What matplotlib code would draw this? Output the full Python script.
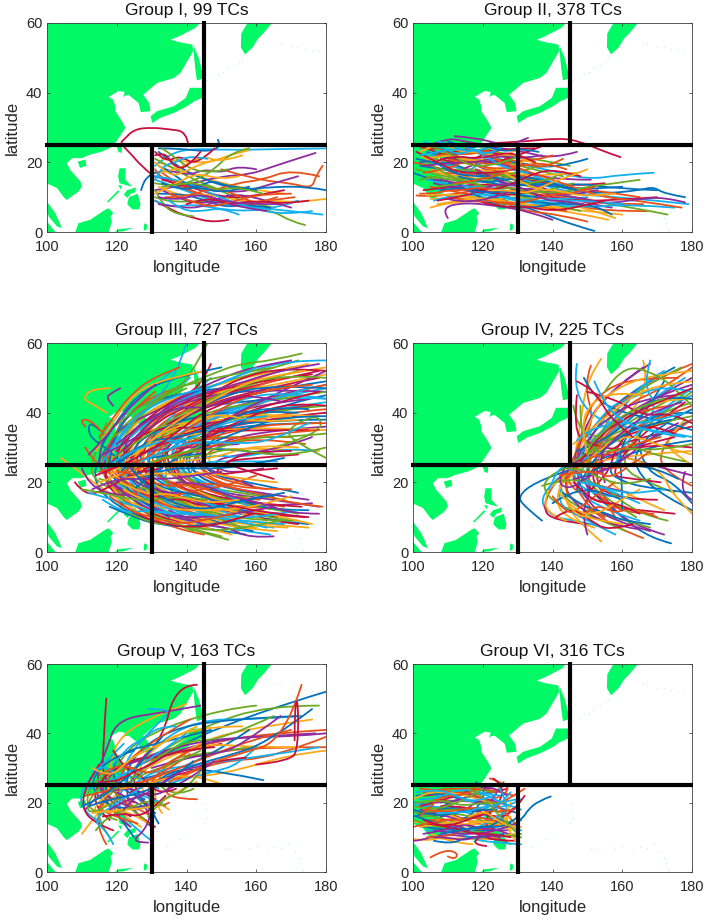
import matplotlib
matplotlib.use('Agg')
import matplotlib.pyplot as plt
from matplotlib.path import Path
from matplotlib.patches import PathPatch

plt.rcParams['font.family'] = ['Liberation Sans', 'DejaVu Sans']

COLORS = ['#0072BD', '#E8501A', '#FBA919', '#8E2C9E', '#6BAA22', '#12B0EE', '#C8103E']
LAND = '#00F964'

titles = ['Group I, 99 TCs', 'Group II, 378 TCs', 'Group III, 727 TCs',
          'Group IV, 225 TCs', 'Group V, 163 TCs', 'Group VI, 316 TCs']
lon_ticks = [100, 120, 140, 160, 180]
lat_ticks = [0, 20, 40, 60]

mainland = [(100,60),(143.8,60),(142.6,58.6),(137.9,56.2),(135.5,55.2),(137.9,54.5),(141.7,53.8),(141.9,51.9),(140.2,49),(138.3,45.7),(136.4,44.2),(131.6,42.8),
            (127.6,39.4),(129.3,37),(129.7,34.7),(126.9,34.4),(126.3,37),(123.5,39.3),(122.4,39.2),(121.8,38.6),(122.3,40.2),(120.6,40.5),(117.7,38.8),(119,38),
            (119.6,36),(119.6,34.7),(121.5,31.8),(122.5,29.9),(119.9,26),(118.2,24.2),(115.8,23.1),(112,22.1),(110,21.2),(107.2,21.2),(105.7,19.7),(106.7,17.8),
            (109.6,14.5),(110,13),(109,11.6),(105.7,9.2),(104.8,10),(102.9,12.6),(100.5,13.7),(100,13.7)]
malaya = [(100,8.7),(102.4,5.4),(104.3,1.1),(102.9,1.6),(100.5,4.4),(100,6)]
sumatra = [(100,3),(102,0.5),(102.5,0),(100,0)]
borneo = [(108.1,0),(109,2.5),(112.4,3.5),(116.7,6.4),(117.7,6.8),(119,5.4),(118.2,4.4),(118.6,3),(117.7,0)]
sulawesi = [(119.5,0),(120.5,0.8),(124.8,1.2),(122,0.2)]
halmahera = [(127.7,0.5),(127.9,2.5),(128.8,2),(128.5,0.5)]
mindanao = [(123.5,10),(126,11),(126.8,8),(126.5,6.5),(124.5,6.5),(123,8)]
palawan = [(117.2,8.7),(120.4,12),(120.7,11.6),(117.6,8.5)]
visayas = [(122,10.8),(123,12),(125.5,12.8),(125.3,11.4),(124,11),(123,9.8)]
luzon = [(120.8,18.3),(122.5,18.3),(122.5,15),(124.4,13),(122.5,13.5),(120.8,14),(120.4,16)]
mindoro = [(120.4,13.4),(121.5,13.4),(121.2,12.2)]
taiwan = [(120,24.5),(121.5,25),(121.5,22.7),(120.5,23)]
hainan = [(108.8,20.2),(111,20.8),(111.3,19),(109.5,18.4)]
honshu = [(141,41.4),(139.8,38.5),(136.4,36.1),(131.6,34.7),(129.7,33.2),(130.2,31.3),(132.6,32.8),(136.4,34.2),(140.2,36.1),(142.2,37.5),(144.5,38.5),(144.5,41.4)]
sakhalin = [(142,53.5),(143.5,50),(144.5,46),(144.5,44),(143,43.5),(142.5,47),(142.2,50)]
kamchatka = [(157.5,60),(155.7,57),(155.6,53),(156.8,51),(159,53),(160.5,55.5),(162,57),(164.5,60)]
land_parts = [mainland, malaya, sumatra, borneo, sulawesi, halmahera, mindanao, palawan, visayas, luzon,
              mindoro, taiwan, hainan, honshu, sakhalin, kamchatka]

dots_lon = [146,147.5,149,150.5,152,153.5,155,156,166,167,170,172,174,176,178,180,145,145.5,145.7,145.2,
            134,138,151,152,158,163,167,169,171,172,172.5,173,173.5,160,165,129,128,120,122]
dots_lat = [43.5,44.5,45.5,46,47,48,49,50,54.5,54,53,53,52.5,52.3,52,51.7,14,15.5,18,20,
            7.5,9.5,7,6.5,6.8,5.5,7,8,6,4,2.5,1,0.4,7.5,7.3,1,3,23,24]

g1 = [
 [(127,12),(127.5,14),(129,16),(131,17.2),(134,17.5)],
 [(152,8),(145,10),(138,13),(132,16),(131,18)],
 [(168,11),(160,12),(150,14),(140,17),(132,20)],
 [(177,22.7),(170,20.5),(164,18.5),(158,16.5),(150,16),(140,13.5),(131,12)],
 [(174,2),(170,3),(165,6),(155,8),(145,9),(135,8.5),(131,10)],
 [(180,24),(165,23.8),(152,23.5),(142,24),(135,22.5),(131,19)],
 [(140.5,25),(140,28.8),(135,29.5),(130,30),(125,29.5),(122,26.5),(121,25.5),(124,22.5),(127,19),(130,16.5)],
 [(149,26.5),(150,24.5),(146,23),(138,24),(132,24)],
 [(179,19),(177,16),(176,12.5),(170,14),(160,15),(150,18)],
 [(158,23.5),(152,22),(147,20),(140,20),(133,21)],
 [(172,16),(165,14),(155,11),(145,13),(135,15),(130.5,16)],
 [(165,7),(155,9),(150,12),(142,15),(135,19),(131,21)],
 [(179,5),(170,6),(160,7),(150,8),(142,11),(134,14),(131,15)],
 [(152,3.5),(148,2.7),(142,4),(136,6),(131,9)],
 [(180,12),(175,13),(165,13),(155,12),(145,15),(137,19),(132,23)],
 [(171,10),(163,9),(155,7),(148,10),(140,12),(133,17)],
 [(180,9.5),(172,8.5),(165,9),(157,8.5),(147,11),(138,10),(132,13)],
 [(160,18),(155,19),(150,17),(145,18),(140,16),(134,18)],
 [(158,24),(153,23),(148,18),(143,15),(136,13),(131,14)],
 [(172,9),(166,7),(158,6),(150,6.5),(142,8),(135,7),(131,9)],
 [(168,12),(158,10),(150,10),(141,13),(133,15)],
 [(164,7),(157,8),(151,7),(143,10),(137,11),(132,11)],
 [(178,16),(170,18),(162,15),(154,14),(145,11),(136,15)],
 [(156,22),(150,20),(144,22),(138,18),(132,17)],
 [(170,7),(160,10),(152,11),(146,8),(139,9),(133,12)],
 [(142,4.5),(137,5),(133,8),(131,12)],
 [(176,6),(168,5),(160,6.5),(152,9),(145,12),(138,15),(131,16)],
 [(148,24),(143,19),(138,22),(134,20),(131,23)],
 [(160,12),(152,13),(147,15),(142,12),(136,17),(132,19)],
 [(166,10),(160,8),(156,10),(148,13),(140,10),(134,10)],
 [(155,16),(150,15),(143,17),(137,14),(131,11)],
 [(163,6),(156,7),(149,9),(144,7),(138,7),(132,8)],
 [(152,18),(147,17),(141,18),(136,22),(133,24)],
 [(146,21),(141,22),(137,20),(133,19),(131,15)],
 [(175,9),(168,8),(160,9),(152,8),(146,10),(140,8)],
 [(158,13),(150,11),(144,13),(138,12),(133,14)],
 [(170,11),(162,11),(154,9),(147,7),(141,9),(135,11)],
 [(150,21),(145,20),(139,17),(135,16),(131,20)],
 [(166,8),(158,8),(150,9),(144,11),(137,9),(132,10)],
 [(162,11),(155,13),(149,12),(143,14),(139,14),(133,13)],
 [(155,5),(150,7),(145,6),(139,6),(135,9)],
 [(144,23),(140,18),(136,19),(134,23),(131,22)],
]

g2 = [
 [(178,10),(172,11),(169,13),(165,12),(155,11),(145,12),(130,16),(115,20),(104,23)],
 [(167,6),(155,6),(145,8),(130,12),(118,15),(106,19),(100,20)],
 [(160,5),(150,6),(140,7),(128,11),(115,14),(105,18)],
 [(157,7),(150,8),(140,12),(128,15),(116,20),(107,24)],
 [(173,5),(163,7),(150,9),(138,12),(125,15),(113,19),(103,22)],
 [(179,8),(170,9),(158,10),(146,11),(132,15),(120,19),(110,22)],
 [(159.5,21.5),(155,23),(148,26),(142,27),(130,25.8),(122,25.5)],
 [(152,0.3),(146,2),(138,5),(130,8),(120,11),(108,14),(100,17)],
 [(150,3),(142,5),(132,6),(125,9),(115,11),(105,13)],
 [(156,3.5),(147,5.5),(135,7),(127,9),(116,10),(105,9.5)],
 [(147,23),(140,21),(132,23),(125,24),(115,26),(110,27),(105,25)],
 [(145,19),(135,21),(127,22),(118,25),(110,25),(102,24)],
 [(169,17),(160,16.5),(150,15),(138,18),(128,20),(118,23),(108,25)],
 [(155,14),(145,13),(133,15),(122,18),(112,21),(101,25)],
 [(170,12),(158,12.5),(148,14),(136,13),(125,17),(114,17),(102,19)],
 [(166,8),(154,8),(142,10),(130,13),(118,12),(106,10),(101,10.5)],
 [(152,9),(142,11),(130,10),(120,9),(110,8.5),(105,7)],
 [(140,3.5),(133,6),(124,7.5),(115,8.5),(108,7),(110,4)],
 [(148,6),(136,9),(124,12),(113,15),(104,16)],
 [(163,9),(150,11),(138,15),(126,19),(114,22),(105,22)],
 [(135,24),(128,24),(122,23),(115,24),(107,22)],
 [(150,21),(140,18),(130,20),(120,21),(110,19),(101,21)],
 [(165,10),(152,12),(142,13),(130,17),(120,16),(109,17)],
 [(158,4),(149,7),(137,10),(126,13),(115,16),(106,17)],
 [(133,27),(130,26),(128,24.5),(124,25.5),(118,27),(112,27.5)],
 [(143,16),(134,18),(124,21),(114,24),(106,21)],
 [(175,7),(162,8),(150,7),(138,8),(128,9),(117,13),(107,12)],
 [(170,10),(156,9),(146,9),(134,11),(122,14),(111,13),(103,12)],
 [(157,5),(152,8),(142,8),(131,9),(120,12),(108,15)],
 [(140,22),(130,19),(122,24),(116,22),(108,23),(103,20)],
 [(147,17),(137,16),(127,17),(117,18),(108,19),(102,22)],
 [(153,12),(144,10),(134,13),(124,11),(114,12),(106,14)],
 [(146,14),(136,11),(126,11),(118,14),(110,16),(104,20)],
 [(137,8),(130,7),(122,10),(112,11),(106,9)],
 [(138,25),(130,22),(124,20),(115,20),(110,24),(105,24)],
 [(160,13),(148,12),(138,14),(128,13),(118,17),(110,20)],
 [(144,6),(134,8),(126,8),(116,9),(110,10)],
 [(133,21),(128,18),(120,18),(112,23),(104,21)],
 [(151,15),(142,15),(132,17),(125,20),(118,20),(112,17)],
 [(136,19),(130,17),(124,16),(116,15),(108,16),(101,18)],
 [(150,10),(140,9),(130,11),(122,13),(113,13),(104,15)],
 [(128,21),(124,23),(119,22),(114,19),(108,21)],
 [(142,13),(134,14),(127,13),(119,15),(110,14)],
 [(177,7),(165,9),(154,10),(143,14),(131,18),(121,22),(113,25)],
 [(142,7),(130,8),(118,10),(110,11),(104,10.5)],
 [(130,14),(124,14),(117,11),(111,15),(106,15)],
 [(136,15),(129,16),(122,15),(114,14),(107,13)],
 [(126,25),(120,21),(116,17),(112,19),(105,20)],
 [(134,12),(128,10),(121,12),(113,10),(107,9)],
 [(145,9),(136,7),(128,7),(122,8),(116,12)],
 [(128,20),(122,19),(116,21),(110,18),(103,17)],
 [(139,19),(133,20),(127,23),(121,20),(113,21)],
 [(178,8.5),(172,10),(165,9.5),(155,8),(148,10),(138,11)],
 [(165,15),(158,14),(150,13),(141,11),(132,12),(124,13)],
 [(160,8),(150,9),(142,9),(134,9),(126,10),(118,11)],
 [(155,9),(147,7),(139,6),(132,7.5),(126,7),(120,8.5)],
 [(147,12),(140,14),(133,16),(127,15),(120,14),(113,16)],
 [(144,18),(138,20),(131,19),(125,18),(118,19),(110,21)],
 [(130,24),(126,21),(120,23),(113,23),(108,26),(102,23)],
 [(137,22),(131,21),(125,22),(119,20),(112,20),(103,19)],
 [(141,16),(133,13),(128,16),(121,17),(114,18),(107,18)],
 [(133,17),(127,18),(122,21),(117,24),(112,25),(107,26)],
 [(148,16),(141,18),(135,17),(129,14),(123,12),(117,12)],
 [(138,10),(132,10),(127,12),(121,11),(115,13),(108,12)],
 [(152,13),(146,11),(140,11),(134,9),(128,8),(121,9)],
 [(158,11),(149,10),(142,12),(136,12),(130,15),(124,18)],
 [(149,8),(143,9),(138,9),(131,13),(126,14),(118,18)],
 [(131,22),(126,20),(121,19),(116,19),(110,23),(104,25)],
 [(125,24),(121,22),(118,24),(113,22),(109,24),(103,26)],
 [(129,18),(124,17),(119,17),(113,17),(107,20),(101,23)],
 [(127,15),(122,16),(117,16),(111,17),(105,21),(102,20)],
 [(124,12),(119,13),(115,12),(110,12),(106,11),(102,11)],
 [(125,9),(120,10),(114,9),(110,8.5),(107,8)],
 [(129,12),(123,10),(119,9),(113,8.7),(110,9.5)],
 [(120,13),(115,15),(110,15),(106,16),(102,15)],
 [(121,24),(117,23),(112,24),(107,23),(102,22)],
 [(135,20),(129,23),(123,22),(118,21),(111,22),(106,20)],
 [(136,23),(131,24),(126,23),(120,25),(116,24),(110,26)],
 [(143,21),(137,18),(132,20),(126,17),(120,15),(112,14)],
 [(150,18),(145,16),(139,14),(133,11),(128,12),(122,12)],
]

g3 = [
 [(175,8),(165,9),(150,12),(135,18),(126,25),(128,33),(140,40),(160,46),(180,49)],
 [(170,12),(155,13),(140,15),(128,20),(122,27),(127,36),(145,45),(170,53)],
 [(160,7),(148,8),(135,11),(125,17),(118,25),(120,33),(132,42),(150,49),(175,54)],
 [(178,13),(165,15),(150,17),(138,20),(132,26),(138,35),(155,43),(180,48)],
 [(152,3.5),(143,6),(133,9),(122,15),(116,22),(117,30),(125,40),(140,47)],
 [(165,7),(150,9),(137,14),(128,22),(130,30),(145,37),(165,41),(180,43)],
 [(172,8),(155,10),(142,18),(134,25),(142,33),(160,38),(180,40)],
 [(157,5),(145,7),(132,8),(120,13),(113,20),(115,28),(122,36)],
 [(168,13),(152,15),(140,21),(138,27),(148,35),(168,40),(180,41)],
 [(162,12),(150,11),(137,13),(128,18),(124,26),(129,38),(143,44),(165,48),(180,51)],
 [(175,15),(160,17),(145,20),(140,26),(150,32),(165,35),(180,36)],
 [(158,8),(146,11),(134,15),(124,21),(120,29),(125,38),(138,45),(155,50),(172,55)],
 [(150,6),(140,8),(129,13),(120,19),(117,27),(123,42),(130,47),(136,52)],
 [(166,10),(153,12),(142,13),(130,19),(126,28),(134,37),(152,45),(178,50)],
 [(172,17),(158,20),(147,22),(143,28),(152,36),(170,43),(180,45)],
 [(163,18),(152,20),(143,24),(147,30),(160,33),(174,31)],
 [(155,6),(142,9),(131,12),(123,19),(120,26),(123,35),(133,43),(148,48),(165,52)],
 [(148,9),(137,10),(126,15),(117,21),(114,27),(117,34)],
 [(170,9),(158,11),(145,14),(133,17),(128,24),(132,33),(148,40),(172,46)],
 [(160,14),(148,17),(137,23),(135,30),(145,38),(163,44),(180,47)],
 [(174,10),(160,11),(148,12),(138,17),(131,23),(135,32),(150,39),(176,42)],
 [(153,12),(142,14),(130,16),(122,22),(122,32),(130,40),(145,42),(165,44)],
 [(145,5),(135,7),(127,12),(119,18),(115,24),(118,32),(127,44),(137,47)],
 [(169,7),(154,8),(141,11),(129,16),(125,24),(126,35),(140,42),(160,50),(180,53)],
 [(176,14),(163,13),(150,15),(140,18),(136,26),(142,36),(158,42),(175,44)],
 [(158,16),(147,15),(135,18),(130,26),(137,38),(150,46),(172,52)],
 [(164,5),(150,7),(139,9),(128,15),(121,24),(119,31),(128,41),(141,50)],
 [(150,14),(140,18),(131,22),(128,29),(138,41),(155,47),(178,52)],
 [(167,11),(152,12),(140,16),(132,21),(133,29),(147,36),(168,38),(180,38)],
 [(147,18),(138,19),(128,23),(127,31),(136,40),(150,43),(170,48)],
 [(155,20),(147,24),(146,29),(158,30),(178,29)],
 [(162,24),(152,22),(147,26),(155,28),(168,30),(176,33)],
 [(142,6),(132,10),(124,16),(114,20),(112,25),(117,37)],
 [(160,10),(147,13),(134,19),(127,27),(135,39),(147,50)],
 [(173,13),(158,14),(144,17),(135,22),(134,34),(144,42),(162,46)],
 [(165,16),(150,18),(140,24),(142,31),(155,37),(178,37)],
 [(152,8),(140,10),(128,17),(118,23),(117,28),(122,39),(131,46)],
 [(175,7),(162,8),(150,10),(136,16),(126,22),(123,30),(130,36),(148,38),(170,39)],
 [(144,12),(133,13),(124,18),(119,24),(122,34),(138,43),(158,47),(180,46)],
 [(168,15),(155,17),(143,19),(137,25),(141,34),(158,40),(180,42)],
 [(156,10),(144,13),(133,21),(131,28),(143,38),(165,45),(180,44)],
 [(149,12),(138,15),(128,20),(122,26),(124,32),(134,41),(152,48),(176,51)],
 [(159,6),(147,9),(137,12),(127,19),(123,28),(130,35),(150,41),(172,40)],
 [(170,18),(157,18),(146,21),(141,29),(152,39),(170,46),(180,48)],
 [(163,9),(150,13),(139,13),(130,20),(128,27),(136,36),(155,40),(178,39)],
 [(141,9),(130,11),(122,17),(115,23),(120,35),(128,39),(145,47)],
 [(172,11),(160,13),(146,16),(136,21),(132,31),(144,40),(160,43),(180,46)],
 [(152,17),(142,21),(135,27),(139,35),(155,41),(175,47)],
 [(146,7),(135,9),(123,14),(116,20),(118,26),(128,35),(141,36),(158,35)],
 [(138,13),(128,15),(120,20),(117,24),(121,38),(132,45),(150,47)],
 [(155,12),(145,16),(136,19),(129,24),(133,35),(147,44),(168,50)],
 [(166,6),(153,7),(143,10),(133,14),(126,20),(128,31),(142,34),(160,36),(180,35)],
 [(159,19),(150,22),(142,26),(146,35),(160,43),(180,52)],
 [(150,4.5),(140,7),(131,10),(125,14),(121,21),(125,30),(140,33),(155,33)],
 [(168,8),(156,9),(145,10),(135,13),(129,21),(129,30),(138,32),(150,31)],
 [(143,15),(135,16),(127,20),(125,29),(135,34),(150,35),(175,35)],
 [(175,12),(165,12),(155,15),(146,18),(140,23),(140,29),(150,30),(165,28)],
 [(161,15),(150,16),(141,20),(136,24),(137,31),(148,33),(170,33)],
 [(153,5),(141,8),(129,12),(120,16),(117,22),(122,28),(133,33),(150,37)],
 [(147,13),(136,17),(126,19),(122,24),(127,29),(140,30),(155,31)],
 [(172,9),(160,9),(149,11),(140,13),(133,20),(136,28),(146,31)],
 [(158,13),(147,19),(140,22),(144,26),(156,26),(166,26)],
 [(165,21),(155,24),(150,26),(160,27),(172,28)],
 [(135,10),(127,14),(120,22),(124,26),(135,28),(145,28)],
 [(148,10),(138,12),(130,15),(122,20),(114,25),(111,30)],
 [(130,9),(124,13),(116,18),(108,24),(104,27)],
 [(142,17),(130,17),(120,16),(112,19),(110,24)],
 [(156,7),(143,12),(131,18),(122,19),(115,21)],
 [(163,7),(150,10),(138,11),(128,12),(122,11),(116,15)],
 [(133,24),(125,23),(117,18),(111,16),(108,20)],
 [(154,9),(142,7),(131,8),(125,10),(118,13)],
 [(179,13),(170,14),(160,17),(150,19),(143,23)],
 [(176,8),(168,10),(158,12),(148,15),(140,19)],
 [(165,4.5),(158,4),(152,7),(143,8),(135,12)],
 [(180,27),(172,31),(168,35),(178,40),(179,34),(165,30)],
 [(177,29),(170,30),(155,27),(148,28),(140,26)],
 [(166,24),(155,23),(148,22),(150,25),(158,29),(170,29)],
 [(122,25),(117,30),(112,33),(112,38),(115,35)],
 [(117,33),(113,38),(109,38),(111,36)],
 [(118,47),(113,47),(110,44),(114,42),(117,40)],
 [(121,47),(118,45.5),(117,44),(119,42)],
 [(146,60),(143,54),(138,47),(131,44),(124,40),(118,35)],
 [(140,60),(137,50),(128,41),(121,33),(116,26)],
 [(147,54),(144,47),(135,43),(126,36),(120,29)],
 [(150,53),(140,51),(128,47),(120,38),(116,31)],
 [(138,53),(130,50),(124,45),(120,40),(115,33)],
 [(145,52),(135,50),(125,46),(118,36),(114,29)],
 [(131,48),(125,43),(120,37),(116,32),(112,28)],
 [(173,57),(165,55),(155,54),(147,51),(135,46),(125,39)],
 [(180,55),(170,55),(158,52),(146,47),(133,41),(124,33)],
 [(180,52),(168,53),(155,50),(143,43),(130,37),(121,27)],
 [(180,47),(165,48),(150,45),(138,38),(127,30),(118,24)],
 [(180,37),(165,37),(150,34),(137,30),(126,26),(115,23)],
 [(172,30),(160,31),(148,27),(137,26),(125,24),(115,20)],
 [(178,54),(166,52),(154,48),(142,45),(130,39),(120,31)],
 [(180,50),(167,51),(153,47),(141,41),(129,34),(119,27)],
 [(180,44),(168,46),(155,44),(143,37),(132,30),(120,25)],
 [(180,42),(170,43),(158,39),(146,33),(134,27),(123,21)],
 [(180,39),(168,39),(156,35),(144,30),(133,25),(125,18)],
 [(176,48),(163,47),(151,42),(140,35),(130,28),(122,23)],
 [(174,52),(160,50),(148,44),(136,37),(126,29),(118,22)],
 [(170,55),(158,53),(148,49),(137,44),(128,36),(122,29)],
 [(165,53),(153,51),(144,49),(133,46),(126,38),(119,33)],
 [(160,53),(150,48),(140,46),(130,42),(123,37),(118,29)],
 [(178,46),(166,43),(154,39),(143,35),(133,31),(124,27)],
 [(175,41),(162,42),(150,37),(139,33),(128,32),(120,26)],
 [(178,35),(165,34),(153,32),(142,29),(131,26),(121,22)],
 [(172,38),(160,37),(150,40),(140,37),(130,33),(125,27)],
 [(168,43),(156,46),(146,41),(136,42),(127,33),(116,28)],
 [(180,34),(170,33),(158,33),(147,29),(138,29),(128,25)],
 [(163,39),(152,38),(141,32),(133,32),(124,29),(116,24)],
 [(158,45),(147,42),(137,34),(129,29),(122,25),(114,22)],
 [(168,27),(158,25),(150,24),(142,24),(134,24),(126,21)],
 [(160,22),(152,19),(144,18),(136,16),(127,16),(120,18)],
 [(170,16),(160,13),(150,12),(140,12),(130,13),(122,18)],
 [(165,13),(155,11),(145,10),(136,10),(127,13),(118,20)],
 [(167,9),(157,7),(147,6),(138,8),(130,8),(124,11)],
 [(172,12),(162,10),(152,10),(143,11),(134,12),(126,17)],
 [(175,10),(165,11),(154,13),(144,15),(135,15),(127,17)],
 [(168,17),(158,15),(150,14),(141,17),(133,18),(126,23)],
 [(155,18),(147,20),(140,19),(132,19),(125,23),(120,23)],
 [(166,20),(155,21),(146,23),(138,22),(130,23),(122,21)],
 [(150,23),(142,22),(136,21),(128,21),(119,21),(113,18)],
 [(146,15),(139,16),(131,15),(124,15),(116,17),(110,18)],
 [(140,11),(132,11),(126,13),(119,15),(112,17)],
 [(159,11),(150,8),(141,7),(134,8),(127,10),(121,14)],
 [(162,16),(153,14),(145,12),(136,14),(129,18),(124,24)],
 [(153,11),(145,9),(137,8),(130,10),(123,12),(118,16)],
 [(155,15),(148,14),(141,15),(134,17),(129,16),(121,20)],
 [(178,11),(170,11),(162,14),(152,16),(144,20),(137,20)],
 [(180,30),(172,28),(162,28),(152,30),(143,27),(133,27)],
 [(175,37),(165,32),(155,31),(145,32),(135,30),(127,26)],
]

g4 = [
 [(174,2.5),(168,4),(160,10),(150,18),(147,25),(152,35),(160,45),(175,53)],
 [(166,4),(158,7),(150,13),(145,22),(147,30),(155,40),(170,50),(180,54)],
 [(154,3),(148,8),(143,15),(146,25),(148,37),(150,50),(154,55.5)],
 [(172,5),(162,8),(155,15),(152,22),(155,33),(165,42),(180,50)],
 [(168,7),(158,10),(148,12),(141,18),(146,26),(160,36),(180,43)],
 [(155,7),(147,9),(140,10),(136,15),(142,22),(150,27),(165,36),(180,47)],
 [(150,8),(140,9),(137,13),(141,21),(148,25),(158,33),(172,37)],
 [(137,9),(132,13),(130,16),(135,20),(146,24),(155,27),(170,33),(180,38)],
 [(160,13),(150,15),(143,21),(148,31),(152,38),(149,48),(151,53.5)],
 [(172,12),(165,15),(157,19),(152,25),(158,35),(168,47),(166,55)],
 [(162,17),(152,19),(146,23),(147,31),(155,46),(168,54)],
 [(175,17),(167,20),(160,24),(162,31),(170,39),(180,46)],
 [(165,9),(155,12),(146,18),(150,27),(162,40),(178,50)],
 [(170,15),(160,15),(150,20),(155,29),(165,33),(180,36)],
 [(180,12),(172,16),(165,22),(163,28),(170,36),(180,41)],
 [(180,19),(174,22),(170,27),(175,35),(180,38)],
 [(180,25),(175,28),(172,32),(178,38)],
 [(168,6),(157,9),(149,15),(146,27),(153,44),(166,53)],
 [(161,6),(150,11),(142,13),(137,18),(139,22),(146,25),(160,37),(178,46)],
 [(158,5),(148,10),(141,14),(144,24),(157,31),(172,41),(180,45)],
 [(175,11),(165,12),(156,13),(148,21),(158,29),(175,33)],
 [(180,17),(170,18),(160,20),(155,24),(165,30),(180,32)],
 [(169,11),(160,11),(152,17),(149,25),(160,42),(172,47),(180,53)],
 [(152,7),(145,9),(140,15),(147,28),(155,36),(170,44),(180,44)],
 [(165,6.5),(155,8),(146,14),(143,20),(146,27),(166,44),(180,48)],
 [(164,10),(154,16),(149,22),(152,32),(162,46),(177,53)],
 [(157,16),(148,17),(145,26),(158,38),(165,48),(172,52)],
 [(171,20),(163,21),(156,22),(165,34),(178,43)],
 [(180,14),(175,20),(167,23),(164,33),(168,40),(180,40)],
 [(155,10),(147,14),(143,18),(146,25),(152,30),(166,37),(180,42)],
 [(144,9),(138,11),(138,17),(143,22),(152,26),(165,28),(180,29)],
 [(180,22),(172,24),(165,26),(158,28),(148,28),(146,25)],
 [(178,26),(168,28),(160,32),(152,33),(147,36),(146,42)],
 [(180,33),(170,35),(158,36),(150,40),(146,48),(147,54)],
 [(180,30),(170,31),(160,29),(150,31),(146,35),(147,45)],
 [(180,35),(170,38),(160,40),(152,44),(149,50)],
 [(176,50),(165,50),(155,47),(149,39),(147,28)],
 [(180,52),(170,51),(160,48),(152,42),(148,30)],
 [(175,45),(165,44),(155,38),(149,31),(146,25)],
 [(180,39),(170,37),(160,34),(151,29),(146,26)],
 [(168,55),(166,48),(170,42),(166,35),(160,31),(158,25)],
 [(175,34),(165,38),(158,30),(156,22),(150,17)],
 [(172,49),(168,42),(163,36),(159,29),(160,20),(160,12)],
 [(174,42),(165,41),(156,35),(152,28),(153,18),(158,10)],
 [(180,28),(172,30),(162,34),(154,30),(148,24),(142,19)],
 [(150,5),(148,12),(152,18),(146,24)],
 [(173,9),(164,11),(155,19),(147,21),(140,20),(137,19)],
 [(165,14),(158,17),(150,20),(144,25),(141,23),(139,18)],
 [(163,8),(156,6),(151,9),(145,13),(141,10)],
 [(168,8),(160,9),(156,11),(149,13),(143,17)],
 [(170,10),(163,13),(158,11),(152,14),(148,10)],
 [(180,11),(174,17),(172,22),(166,26),(161,27)],
 [(178,23),(176,17),(180,15)],
 [(180,42),(175,47),(170,51),(160,54),(155,46)],
 [(180,46),(172,48),(162,44),(155,41),(150,33)],
 [(180,37),(174,40),(166,39),(158,44),(150,46)],
 [(180,44),(170,45),(162,38),(155,32),(147,29)],
 [(168,29),(163,25),(158,24),(152,24),(147,25)],
 [(180,49),(168,48),(158,41),(152,36),(146,31)],
 [(176,37),(168,33),(160,26),(152,22),(146,21)],
 [(180,31),(170,29),(160,30),(152,28),(148,34),(148,42)],
 [(178,40),(168,37),(158,37),(150,35),(147,32)],
 [(180,47),(170,43),(160,38),(153,33),(148,26)],
 [(174,38),(164,36),(155,30),(150,24),(147,18)],
 [(171,33),(163,31),(156,28),(149,27),(144,21)],
 [(166,45),(158,46),(151,43),(148,36),(150,28)],
 [(177,43),(167,40),(157,32),(153,27),(155,20)],
 [(172,44),(162,41),(154,34),(149,29),(151,22)],
 [(178,33),(170,34),(161,37),(155,42),(152,49)],
 [(163,33),(157,38),(154,43),(151,47),(147,49)],
 [(160,15),(155,17),(149,18),(143,16),(140,14)],
 [(158,20),(152,16),(147,12),(144,11),(140,16)],
 [(165,18),(158,14),(153,11),(147,11),(142,17)],
 [(155,24),(149,21),(145,18),(141,20),(144,25)],
 [(168,21),(161,19),(154,21),(148,24),(143,24)],
 [(172,18),(166,17),(160,17),(153,19),(148,20)],
 [(165,11),(159,14),(154,14),(150,16),(146,20)],
 [(176,21),(170,24),(162,25),(155,26),(150,22)],
 [(161,24),(157,21),(153,23),(147,23),(142,22)],
 [(160,8),(154,9),(150,10),(146,11),(144,15)],
]

g5 = [
 [(125,10),(122,14),(118,20),(125,27),(135,35),(150,42),(170,49),(180,52)],
 [(117,8),(114,13),(116,20),(120,27),(130,33),(150,38),(165,40),(180,41)],
 [(110,11),(113,15),(118,21),(125,26),(135,27),(150,28),(170,34),(180,35)],
 [(130,13),(125,17),(122,24),(128,31),(140,36),(155,39),(170,39),(180,40)],
 [(118,10),(113,17),(119,23),(124,30),(135,36),(145,42),(163,48),(178,48)],
 [(130,9),(126,12),(120,18),(122,26),(130,36),(143,44),(160,44),(173,45)],
 [(131,13),(128,15),(122,20),(116,27),(116,35),(117,50)],
 [(131,17),(127,20),(122,26),(125,34),(135,41),(150,44),(172,45)],
 [(135,20),(131,18),(128,24),(135,32),(150,35),(165,36),(180,36)],
 [(127,13),(122,16),(117,22),(118,30),(120,38),(128,44),(140,48.5)],
 [(124,13),(120,16),(116,22),(114,28),(117,35),(120,44),(133,46),(144,48)],
 [(128,15),(122,20),(118,25),(121,33),(129,40),(150,47),(160,48)],
 [(130,19),(125,22),(121,28),(125,36),(133,44),(136,47),(129,47)],
 [(129,19),(125,23),(125,31),(133,38),(137,54),(143,54)],
 [(132,14),(129,19),(130,25),(137,30),(150,29),(162,26.5)],
 [(143,21),(138,21),(133,23),(139,28),(150,32),(165,33),(180,39)],
 [(133,17),(130,21),(133,30),(143,37),(155,41),(176,44)],
 [(124,16),(119,19),(116,25),(120,30),(130,34),(145,38),(160,39),(177,40)],
 [(120,15),(114,17),(111,20),(113,26),(119,29),(125,30)],
 [(116,14),(112,16),(109,21),(112,27),(117,32),(122,37)],
 [(119,12),(114,14),(110,18),(111,25),(115,31)],
 [(128,19),(122,18),(116,20),(112,26),(118,33),(125,35)],
 [(130,16),(125,19),(120,21),(121,29),(127,36),(141,44)],
 [(135,18),(130,21),(126,25),(127,33),(140,42),(156,42)],
 [(126,18),(120,20),(115,24),(117,29),(126,32),(138,36)],
 [(142,24),(138,22),(131,25),(135,33),(145,34),(158,36)],
 [(133,20),(127,22),(123,24),(130,29),(142,31),(160,33),(178,36)],
 [(118,15),(113,19),(115,27),(125,33),(133,33),(150,37)],
 [(128,21),(122,23),(118,29),(122,35),(132,37),(147,41)],
 [(125,20),(119,22),(114,19),(119,16),(126,14)],
 [(129,14),(123,18),(117,17),(112,18),(118,23)],
 [(131,21),(126,24),(120,24),(114,22),(111,18)],
 [(122,22),(116,18),(111,17),(113,23),(118,27)],
 [(132,24),(128,27),(120,28),(116,31),(113,29)],
 [(137,24),(132,22),(127,28),(122,30),(119,35)],
 [(128,27),(136,29),(145,33),(152,37),(158,41)],
 [(125,25),(133,28),(143,32),(158,38),(170,41)],
 [(127,29),(136,34),(146,37),(160,36),(172,36)],
 [(130,30),(140,33),(148,34),(155,36),(167,45)],
 [(124,27),(130,32),(140,38),(150,38),(165,45)],
 [(133,25),(140,27),(148,29),(155,31),(160,36)],
 [(124,23),(132,27),(142,29),(147,32),(157,33)],
 [(130,25),(139,30),(150,33),(163,37),(176,47)],
 [(135,26),(145,31),(155,34),(168,38),(173,54)],
 [(121,24),(128,25),(137,28),(146,27),(151,25)],
 [(120,23),(126,20),(130,17),(128,12),(124,8.5),(129,8.5)],
 [(114,12),(117,16),(125,19),(130,21),(134,19)],
 [(119,8),(117,12),(113,15),(120,20),(128,25)],
 [(171,38),(171,48),(172,50),(172,36),(170,32),(160,31)],
 [(112,19),(118,21),(124,22),(130,24),(136,27),(142,32)],
 [(111,22),(116,23),(122,25),(128,26),(134,29),(141,34)],
 [(113,17),(119,18),(125,18),(131,19),(137,23),(143,26)],
 [(118,18),(123,21),(128,22),(133,26),(140,30),(146,31)],
 [(114,21),(119,24),(124,26),(129,29),(136,31),(144,35)],
 [(112,24),(117,26),(122,28),(127,31),(133,35),(140,40)],
 [(116,16),(121,17),(126,16),(130,18),(134,22)],
 [(110,19),(115,21),(120,25),(124,28),(128,33),(133,39)],
 [(115,28),(120,31),(125,30),(130,28),(137,33),(145,37)],
 [(113,30),(118,27),(123,32),(128,35),(135,38),(143,42)],
 [(122,18),(126,23),(131,22),(135,24),(141,27),(148,32)],
 [(129,16),(133,21),(136,22),(140,24),(144,29)],
 [(119,31),(123,36),(127,38),(132,42),(137,42)],
 [(116,26),(120,26),(125,29),(130,31),(136,35),(148,36)],
]

g6 = [
 [(139.5,21.8),(136,20.5),(133,18),(131.5,15.5),(130,14.5)],
 [(105,4.2),(109,6.5),(113,5.5),(112,3.5),(110,4.5)],
 [(117,8),(112,8.5),(108,10),(104,9),(100,9.5)],
 [(130,10),(122,13),(112,16),(103,20),(100,20)],
 [(128,8),(120,12),(110,15),(100,17.5)],
 [(131,12),(122,15),(113,18),(105,19),(100,19)],
 [(127,24),(120,22),(112,23),(103,22)],
 [(130,17),(123,19),(114,21),(106,23),(101,22)],
 [(122,27),(125,26),(128,24),(124,21),(116,20),(106,21)],
 [(129,13),(120,14),(110,13.5),(100,14.5)],
 [(127,9),(118,10),(108,11),(102,9),(100,9)],
 [(131,10),(124,11),(115,12),(106,13),(100,15)],
 [(130,21),(124,20),(118,17),(110,18),(100,20)],
 [(124,25),(117,24),(110,21),(102,19)],
 [(128,14),(120,17),(112,19),(104,17),(100,16)],
 [(132,24),(127,21),(121,17),(113,15),(104,15)],
 [(129,11),(121,9),(113,10),(110,9),(105,11)],
 [(130,19),(125,16),(118,14),(110,16),(102,18)],
 [(126,26),(124,22),(118,25),(111,22),(104,21)],
 [(131,8),(123,8.5),(117,9.5),(112,12),(104,12)],
 [(123,27),(126,25),(125,20),(120,15),(122,10)],
 [(131,15),(126,12),(118,12),(110,12),(103,13)],
 [(129,22),(122,24),(114,24),(108,24),(103,23)],
 [(130,12),(125,14),(119,15),(113,13),(107,15)],
 [(128,19),(122,21),(116,22),(110,20),(105,17)],
 [(127,17),(121,18),(115,18),(109,18),(101,17)],
 [(131,21),(126,18),(119,20),(113,21),(108,20)],
 [(130,9),(124,9),(118,11),(112,14),(106,14)],
 [(118,26),(121,24),(119,19),(115,15),(110,14)],
 [(127,15),(122,12),(116,13),(110,10),(104,10)],
 [(128,20),(126,15),(128,11),(130,8)],
 [(124,23),(122,19),(119,21),(114,17),(108,16)],
 [(129,15),(124,13),(117,16),(111,17),(103,16)],
 [(131,18),(125,20),(120,23),(113,22),(107,22)],
 [(132,22),(128,16),(122,16),(116,19),(108,19)],
 [(126,11),(120,10),(115,10),(111,8),(106,9)],
 [(130,13),(126,18),(121,21),(115,23),(102,24)],
 [(128,12),(123,15),(117,14),(112,16),(106,18)],
 [(127,22),(123,25),(118,23),(112,20),(105,20)],
 [(131,11),(127,10),(122,11),(117,12),(113,11)],
 [(125,24),(128,18),(124,16),(119,13),(115,11)],
 [(119,10),(116,8),(121,7.5)],
 [(130,16),(127,13),(120,13),(112,12),(101,16)],
 [(129,18),(123,17),(117,19),(110,17),(103,18)],
 [(128,16),(122,14),(116,15),(109,14),(102,13)],
 [(130,14),(124,12),(119,11),(112,11),(106,12)],
 [(126,20),(120,20),(114,19),(108,21),(101,20)],
 [(125,22),(119,23),(113,24),(107,21),(102,21)],
 [(128,10),(123,11),(117,11),(111,13),(104,14)],
 [(124,18),(118,18),(112,17),(106,16),(100,18)],
 [(126,14),(120,16),(114,15),(108,15),(100,13)],
 [(122,20),(116,22),(110,23),(104,23),(100,21)],
 [(127,12),(121,12),(115,14),(109,12),(103,11)],
 [(120,24),(115,21),(110,19),(105,18),(100,19)],
 [(128,23),(125,19),(120,19),(115,17),(107,17)],
 [(122,17),(118,16),(113,14),(108,13),(103,15)],
 [(126,16),(123,13),(118,13),(114,12),(108,11)],
 [(119,24),(114,22),(109,22),(106,20),(102,16)],
 [(131,13),(128,13),(124,15),(120,18),(116,16)],
 [(125,10),(120,11),(115,9),(110,10),(106,10)],
 [(130,11),(127,14),(124,17),(120,22),(116,24)],
 [(123,22),(118,20),(112,22),(107,24),(101,23)],
]

groups = [g1, g2, g3, g4, g5, g6]


def track_path(tr):
    verts = [tr[0]]
    codes = [Path.MOVETO]
    for a, b in zip(tr[1:-2], tr[2:-1]):
        verts += [a, ((a[0] + b[0]) / 2, (a[1] + b[1]) / 2)]
        codes += [Path.CURVE3, Path.CURVE3]
    if len(tr) > 2:
        verts += [tr[-2], tr[-1]]
        codes += [Path.CURVE3, Path.CURVE3]
    else:
        verts.append(tr[-1])
        codes.append(Path.LINETO)
    return Path(verts, codes)


fig = plt.figure(figsize=(7.06, 9.22), dpi=100)
W, H = 706.0, 922.0
lefts = [47, 413]
rows = [(23, 232), (343, 552), (664, 872)]

for i, (tracks, title) in enumerate(zip(groups, titles)):
    r, c = divmod(i, 2)
    top, bot = rows[r]
    ax = fig.add_axes([lefts[c]/W, 1-bot/H, 279/W, (bot-top)/H])
    for part in land_parts:
        ax.fill([p[0] for p in part], [p[1] for p in part], color=LAND, lw=0, zorder=1)
    ax.scatter(dots_lon, dots_lat, s=1.0, color='#C4F9D8', lw=0, zorder=1)
    for k, tr in enumerate(tracks):
        ax.add_patch(PathPatch(track_path(tr), fill=False, edgecolor=COLORS[k % 7], lw=1.3,
                               joinstyle='round', capstyle='round', zorder=2))
    ax.plot([99.3, 180.3], [25, 25], color='k', lw=3, solid_capstyle='butt', clip_on=False, zorder=5)
    ax.plot([130, 130], [-0.5, 25], color='k', lw=3, solid_capstyle='butt', clip_on=False, zorder=5)
    ax.plot([145, 145], [25, 60.7], color='k', lw=3, solid_capstyle='butt', clip_on=False, zorder=5)
    ax.set_xlim(100, 180)
    ax.set_ylim(0, 60)
    ax.set_xticks(lon_ticks)
    ax.set_yticks(lat_ticks)
    ax.tick_params(direction='in', length=2, width=0.5, labelsize=10.5, colors='#262626',
                   top=True, right=True)
    ax.tick_params(axis='x', pad=6)
    ax.tick_params(axis='y', pad=3.5)
    for s in ax.spines.values():
        s.set_color('#404040')
        s.set_linewidth(0.6)
    ax.set_title(title, fontsize=12.5, color='#111111', pad=5.5)
    ax.set_xlabel('longitude', fontsize=12, color='#262626', labelpad=4)
    ax.set_ylabel('latitude', fontsize=12, color='#262626', labelpad=4.5)

fig.savefig('out.png', dpi=100)
